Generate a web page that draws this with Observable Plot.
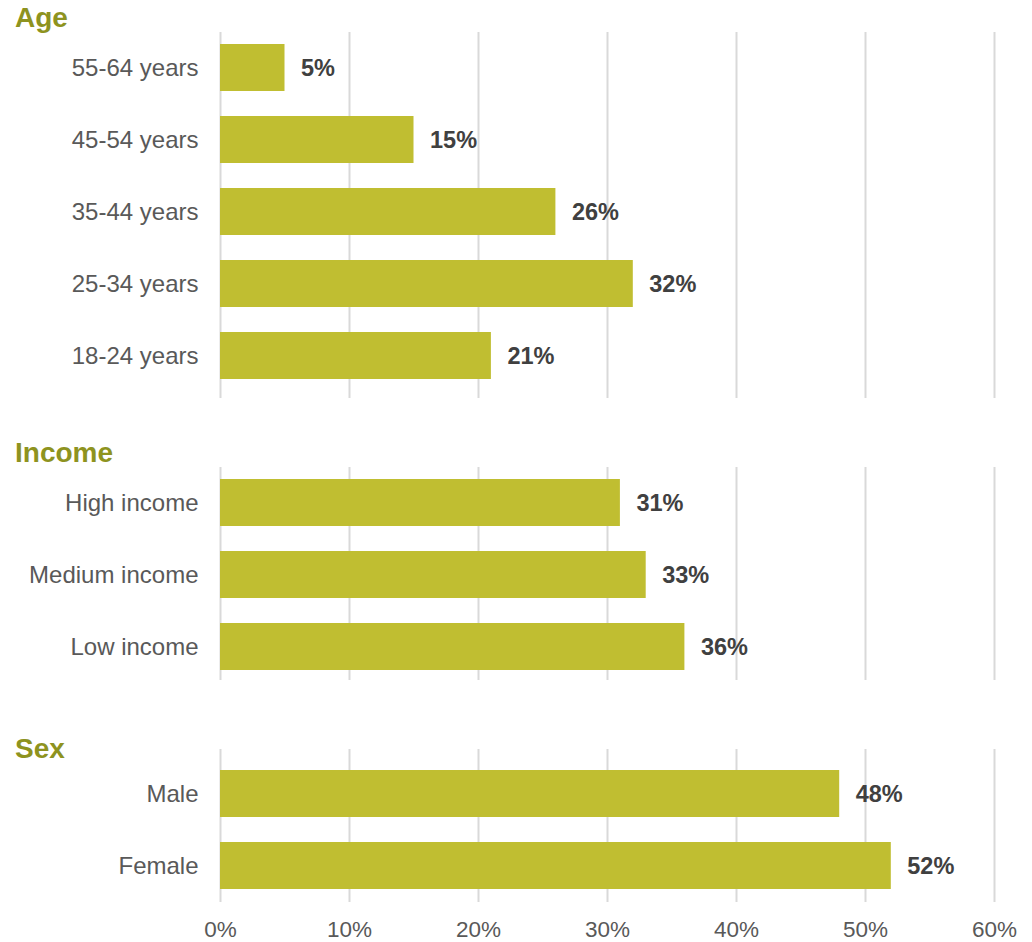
<!DOCTYPE html>
<html>
<head>
<meta charset="utf-8">
<script src="https://cdn.jsdelivr.net/npm/d3@7"></script>
<script src="https://cdn.jsdelivr.net/npm/@observablehq/plot@0.6"></script>
<style>
  html, body { margin: 0; padding: 0; background: #ffffff; }
  #chart { position: relative; width: 1032px; height: 942px; overflow: hidden; font-family: "Liberation Sans", Arial, sans-serif; }
  #chart svg { position: absolute; left: 0; }
</style>
</head>
<body>
<div id="chart"></div>
<script>
// ---- data ----
const ageCats = ["55-64 years", "45-54 years", "35-44 years", "25-34 years", "18-24 years"];
const ageVals = [5, 15, 26, 32, 21];
const incomeCats = ["High income", "Medium income", "Low income"];
const incomeVals = [31, 33, 36];
const sexCats = ["Male", "Female"];
const sexVals = [48, 52];
const xTicks = [0, 10, 20, 30, 40, 50, 60];
const panelTitles = ["Age", "Income", "Sex"];

// ---- styling ----
const barColor = "#C0BE31";
const titleColor = "#8E931F";
const labelColor = "#595959";
const valueColor = "#404040";
const gridColor = "#D9D9D9";
const fontFamily = "'Liberation Sans', Arial, sans-serif";

const container = document.getElementById("chart");

function panel({cats, vals, title, top, height, marginTop, marginBottom, yRange, showAxis, titleY}) {
  const data = cats.map((c, i) => ({cat: c, value: vals[i]}));
  const marks = [
    Plot.ruleX(xTicks, {stroke: gridColor, strokeWidth: 2}),
    Plot.barX(data, {x: "value", y: "cat", fill: barColor}),
    Plot.text(data, {
      x: "value", y: "cat", text: d => `${d.value}%`,
      textAnchor: "start", dx: 16, fontWeight: "bold", fontSize: 23.5, fill: valueColor
    }),
    Plot.axisY({tickSize: 0, tickPadding: 22, fontSize: 24, fill: labelColor, label: null})
  ];
  if (showAxis) {
    marks.push(Plot.axisX(xTicks, {
      tickSize: 0, tickPadding: 19, fontSize: 22.5, fill: labelColor,
      tickFormat: d => `${d}%`, label: null
    }));
  }
  const svg = Plot.plot({
    width: 1032,
    height,
    marginTop,
    marginBottom,
    marginLeft: 220,
    marginRight: 38,
    style: {fontFamily, background: "transparent", overflow: "visible"},
    x: {domain: [0, 60], axis: null},
    y: {domain: cats, range: yRange, paddingInner: 0.35, paddingOuter: 0.175, axis: null},
    marks
  });
  svg.style.top = top + "px";
  d3.select(svg).append("text")
    .attr("x", 15)
    .attr("y", titleY)
    .attr("text-anchor", "start")
    .attr("fill", titleColor)
    .attr("font-family", fontFamily)
    .attr("font-weight", "bold")
    .attr("font-size", 28)
    .text(title);
  container.appendChild(svg);
}

panel({cats: ageCats, vals: ageVals, title: panelTitles[0], top: 0, height: 430,
  marginTop: 32, marginBottom: 32, yRange: [30.5, 393], showAxis: false, titleY: 27});
panel({cats: incomeCats, vals: incomeVals, title: panelTitles[1], top: 430, height: 290,
  marginTop: 37, marginBottom: 40, yRange: [36, 253.5], showAxis: false, titleY: 32});
panel({cats: sexCats, vals: sexVals, title: panelTitles[2], top: 720, height: 222,
  marginTop: 29, marginBottom: 40, yRange: [37, 182], showAxis: true, titleY: 38});
</script>
</body>
</html>
